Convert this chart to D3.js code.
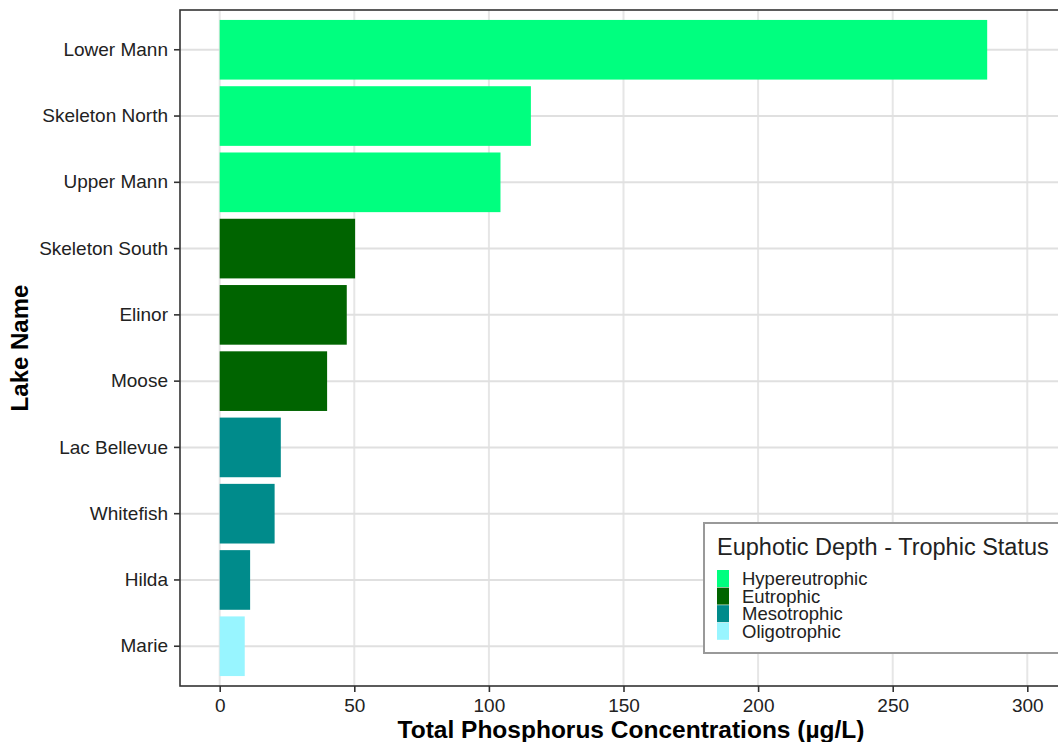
<!DOCTYPE html>
<html>
<head>
<meta charset="utf-8">
<script src="https://cdn.jsdelivr.net/npm/d3@7"></script>
<style>
  html, body { margin: 0; padding: 0; background: #fff; }
  svg { display: block; font-family: "Liberation Sans", Arial, sans-serif; }
</style>
</head>
<body>
<svg id="chart" width="1058" height="742"></svg>
<script>
// ---- Data ----
const lakes = ["Lower Mann", "Skeleton North", "Upper Mann", "Skeleton South", "Elinor",
               "Moose", "Lac Bellevue", "Whitefish", "Hilda", "Marie"];
const phosphorus = [285.1, 115.6, 104.3, 50.3, 47.2, 39.9, 22.7, 20.4, 11.3, 9.3];
const status = ["Hypereutrophic", "Hypereutrophic", "Hypereutrophic", "Eutrophic", "Eutrophic",
                "Eutrophic", "Mesotrophic", "Mesotrophic", "Mesotrophic", "Oligotrophic"];
const statusLevels = ["Hypereutrophic", "Eutrophic", "Mesotrophic", "Oligotrophic"];
const statusColors = ["#00FF7F", "#006400", "#008B8B", "#98F5FF"];
const xTicks = [0, 50, 100, 150, 200, 250, 300];

const data = lakes.map((l, i) => ({ lake: l, value: phosphorus[i], status: status[i] }));

// ---- Layout ----
const svg = d3.select("#chart");
const panel = { left: 180, top: 10, right: 1080, bottom: 686 };

const x = d3.scaleLinear().domain([0, 300]).range([219.7, 1027.3]);
const y = d3.scaleBand().domain(lakes).range([panel.top, panel.bottom])
  .paddingInner(0.1).paddingOuter(0.15);
const color = d3.scaleOrdinal().domain(statusLevels).range(statusColors);

// Panel background
svg.append("rect").attr("x", panel.left).attr("y", panel.top)
  .attr("width", panel.right - panel.left).attr("height", panel.bottom - panel.top)
  .attr("fill", "#fff");

// Gridlines
const grid = svg.append("g");
grid.selectAll("line.vx").data(xTicks).enter().append("line")
  .attr("x1", d => x(d)).attr("x2", d => x(d))
  .attr("y1", panel.top).attr("y2", panel.bottom)
  .attr("stroke", "#e6e6e6").attr("stroke-width", 2);
grid.selectAll("line.hy").data(lakes).enter().append("line")
  .attr("x1", panel.left).attr("x2", panel.right)
  .attr("y1", d => y(d) + y.bandwidth() / 2).attr("y2", d => y(d) + y.bandwidth() / 2)
  .attr("stroke", "#e0e0e0").attr("stroke-width", 2);

// Bars
svg.append("g").selectAll("rect").data(data).enter().append("rect")
  .attr("x", x(0))
  .attr("y", d => y(d.lake))
  .attr("width", d => x(d.value) - x(0))
  .attr("height", y.bandwidth())
  .attr("fill", d => color(d.status));

// Panel border
svg.append("rect").attr("x", panel.left).attr("y", panel.top)
  .attr("width", panel.right - panel.left).attr("height", panel.bottom - panel.top)
  .attr("fill", "none").attr("stroke", "#333").attr("stroke-width", 1.6);

// X axis
const xAxis = svg.append("g").attr("transform", `translate(0,${panel.bottom})`)
  .call(d3.axisBottom(x).tickValues(xTicks).tickSize(6).tickPadding(7).tickFormat(d3.format("d")));
xAxis.select(".domain").remove();
xAxis.selectAll(".tick line").attr("stroke", "#333").attr("stroke-width", 1.6);
xAxis.selectAll(".tick text").attr("font-size", 19).attr("fill", "#222")
  .attr("font-family", "Liberation Sans, Arial, sans-serif");

// Y axis
const yAxis = svg.append("g").attr("transform", `translate(${panel.left},0)`)
  .call(d3.axisLeft(y).tickSize(6).tickPadding(6));
yAxis.select(".domain").remove();
yAxis.selectAll(".tick line").attr("stroke", "#333").attr("stroke-width", 1.6);
yAxis.selectAll(".tick text").attr("font-size", 19).attr("fill", "#222")
  .attr("font-family", "Liberation Sans, Arial, sans-serif");

// Axis titles
svg.append("text").attr("x", 631).attr("y", 738).attr("text-anchor", "middle")
  .attr("font-size", 24.5).attr("font-weight", "bold").attr("fill", "#000")
  .text("Total Phosphorus Concentrations (µg/L)");
svg.append("text").attr("transform", `translate(28,${(panel.top + panel.bottom) / 2}) rotate(-90)`)
  .attr("text-anchor", "middle")
  .attr("font-size", 24).attr("font-weight", "bold").attr("fill", "#000")
  .text("Lake Name");

// Legend
const lg = svg.append("g").attr("transform", "translate(704,523)");
lg.append("rect").attr("x", 0).attr("y", 0).attr("width", 420).attr("height", 130)
  .attr("fill", "#fff").attr("stroke", "#999").attr("stroke-width", 2);
lg.append("text").attr("x", 13).attr("y", 32).attr("font-size", 23.5).attr("fill", "#222")
  .text("Euphotic Depth - Trophic Status");
const items = lg.selectAll("g.item").data(statusLevels).enter().append("g")
  .attr("transform", (d, i) => `translate(13,${47 + i * 17.6})`);
items.append("rect").attr("width", 12).attr("height", 17).attr("fill", d => color(d));
items.append("text").attr("x", 25).attr("y", 8.5).attr("dy", "0.35em")
  .attr("font-size", 18.5).attr("fill", "#222").text(d => d);
</script>
</body>
</html>
